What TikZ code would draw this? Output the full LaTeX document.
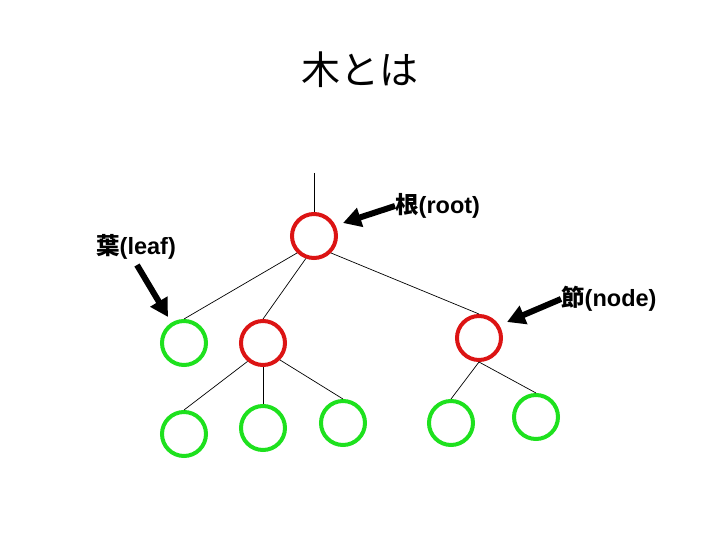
\documentclass[tikz,border=0pt]{standalone}
\usepackage{fontspec}
\setmainfont{Liberation Sans}
\newfontfamily\cjk{Noto Sans CJK JP}
\usetikzlibrary{arrows.meta}
\definecolor{nred}{RGB}{220,20,20}
\definecolor{ngreen}{RGB}{30,225,30}
\tikzset{
  tnode/.style={circle,draw,line width=4pt,minimum size=44pt,inner sep=0pt},
  rnode/.style={tnode,draw=nred},
  gnode/.style={tnode,draw=ngreen},
  edge/.style={line width=0.7pt,black},
  lbl/.style={font=\fontsize{23.5}{26}\selectfont\bfseries,inner sep=0pt},
  pointer/.style={line width=6pt,-{Triangle[length=18pt,width=19pt]}}
}
\begin{document}
\begin{tikzpicture}[x=1pt,y=-1pt]
\useasboundingbox (0,0) rectangle (720,540);
\node (title) at (360,70) {\fontsize{39}{44}\selectfont\cjk 木とは};
% tree nodes
\node[rnode] (root) at (314,236) {};
\node[gnode] (l1) at (184,343) {};
\node[rnode] (n2) at (263,343) {};
\node[rnode] (n3) at (479,338) {};
\node[gnode] (a) at (184,434) {};
\node[gnode] (b) at (263,428) {};
\node[gnode] (c) at (343,423) {};
\node[gnode] (d) at (451,423) {};
\node[gnode] (e) at (536,417) {};
\coordinate (top) at (314,173);
\draw[edge] (top) -- (root.north);
\draw[edge] (root.225) -- (l1.north);
\draw[edge] (root.250) -- (n2.north);
\draw[edge] (root.-45) -- (n3.north);
\draw[edge] (n2.230) -- (a.north);
\draw[edge] (n2.south) -- (b.north);
\draw[edge] (n2.-45) -- (c.north);
\draw[edge] (n3.south) -- (d.north);
\draw[edge] (n3.south) -- (e.north);
% labels
\node[lbl,anchor=west] (lroot) at (395,206) {{\cjk\bfseries 根}(root)};
\node[lbl,anchor=west] (lleaf) at (96,247) {{\cjk\bfseries 葉}(leaf)};
\node[lbl,anchor=west] (lnode) at (561,299) {{\cjk\bfseries 節}(node)};
\coordinate (troot) at (343,223);
\coordinate (tleaf) at (168,317);
\coordinate (tnode) at (507,322);
\coordinate (sleaf) at (137,265);
\draw[pointer] (lroot.west) -- (troot);
\draw[pointer] (sleaf) -- (tleaf);
\draw[pointer] (lnode.west) -- (tnode);
\end{tikzpicture}
\end{document}
